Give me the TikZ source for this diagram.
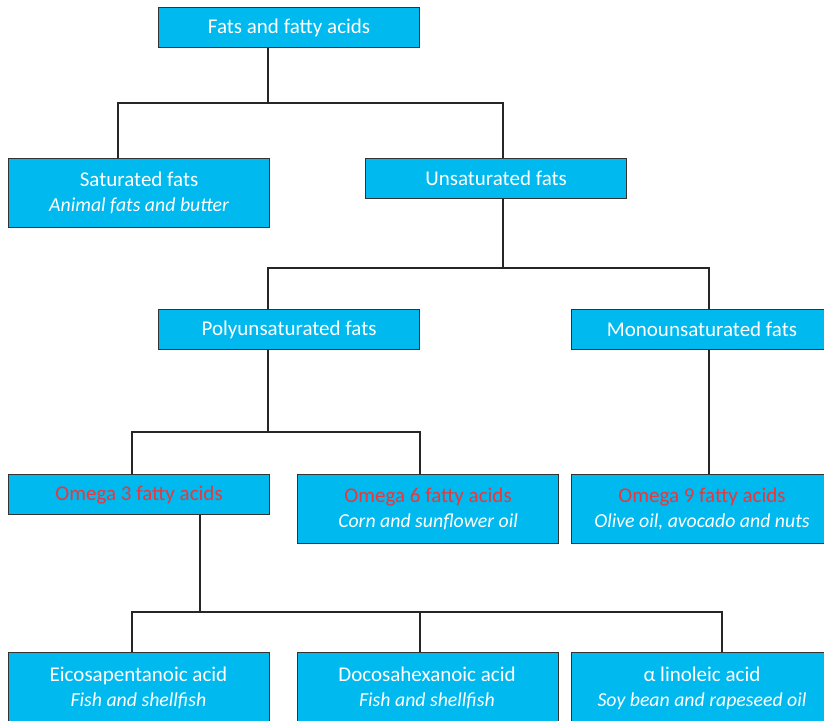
\documentclass[tikz,border=0pt]{standalone}
\usepackage{fontspec}
\setmainfont{Carlito}
\newcommand{\subtxt}[1]{{\fontsize{19.8}{25}\selectfont\itshape #1}}
\begin{document}
\begin{tikzpicture}[x=1pt,y=-1pt,
  box/.style={draw=black!80,line width=1.2pt,fill=boxblue,text=white,inner sep=0pt,
    minimum width=261pt,anchor=north west,align=center,font=\fontsize{21}{25}\selectfont},
  one/.style={box,minimum height=40pt},
  two/.style={box,minimum height=69pt},
  lbl/.style={anchor=center,text=white,align=center,inner sep=0pt,font=\fontsize{21}{25}\selectfont},
  conn/.style={draw=black!85,line width=1.2pt}]
\definecolor{boxblue}{HTML}{00B9EF}
\definecolor{omegared}{HTML}{E8383D}
\useasboundingbox (0,0) rectangle (824,720);
\node[one] (fats) at (158,7) {Fats and fatty acids};
\node[two] (sat) at (8,158) {Saturated fats\\\subtxt{Animal fats and butter}};
\node[one] (unsat) at (365,158) {Unsaturated fats};
\node[one] (poly) at (158,309) {Polyunsaturated fats};
\node[one] (mono) at (571,309) {};
\node[lbl] (monot) at (702,329.5) {Monounsaturated fats};
\node[one] (om3) at (8,474) {\textcolor{omegared}{Omega 3 fatty acids}};
\node[two] (om6) at (297,474) {\textcolor{omegared}{Omega 6 fatty acids}\\\subtxt{Corn and sunflower oil}};
\node[two] (om9) at (571,474) {};
\node[lbl] (om9t) at (702,508.5) {\textcolor{omegared}{Omega 9 fatty acids}\\\subtxt{Olive oil, avocado and nuts}};
\node[two,minimum height=80pt] (epa) at (8,652) {};
\node[lbl] (epat) at (138.5,688) {Eicosapentanoic acid\\\subtxt{Fish and shellfish}};
\node[two,minimum height=80pt] (dha) at (297,652) {};
\node[lbl] (dhat) at (427,688) {Docosahexanoic acid\\\subtxt{Fish and shellfish}};
\node[two,minimum height=80pt] (ala) at (571,652) {};
\node[lbl] (alat) at (702,688) {α linoleic acid\\\subtxt{Soy bean and rapeseed oil}};
% junctions
\coordinate (j1) at (268,103);
\coordinate (s1) at (118,103);
\coordinate (u1) at (503,103);
\coordinate (j2) at (503,268);
\coordinate (p2) at (268,268);
\coordinate (m2) at (709,268);
\coordinate (j3) at (268,432);
\coordinate (o3) at (132,432);
\coordinate (o6) at (420,432);
\coordinate (m9) at (709,432);
\coordinate (j4) at (200,612);
\coordinate (e4) at (132,612);
\coordinate (d4) at (420,612);
\coordinate (a4) at (722,612);
\draw[conn] (j1 |- fats.south) -- (j1);
\draw[conn] (s1 |- sat.north) -- (s1) -- (u1) -- (u1 |- unsat.north);
\draw[conn] (j2 |- unsat.south) -- (j2);
\draw[conn] (p2 |- poly.north) -- (p2) -- (m2) -- (m2 |- mono.north);
\draw[conn] (j3 |- poly.south) -- (j3);
\draw[conn] (o3 |- om3.north) -- (o3) -- (o6) -- (o6 |- om6.north);
\draw[conn] (m9 |- mono.south) -- (m9 |- om9.north);
\draw[conn] (j4 |- om3.south) -- (j4);
\draw[conn] (e4 |- epa.north) -- (e4) -- (a4) -- (a4 |- ala.north);
\draw[conn] (d4) -- (d4 |- dha.north);
\end{tikzpicture}
\end{document}
